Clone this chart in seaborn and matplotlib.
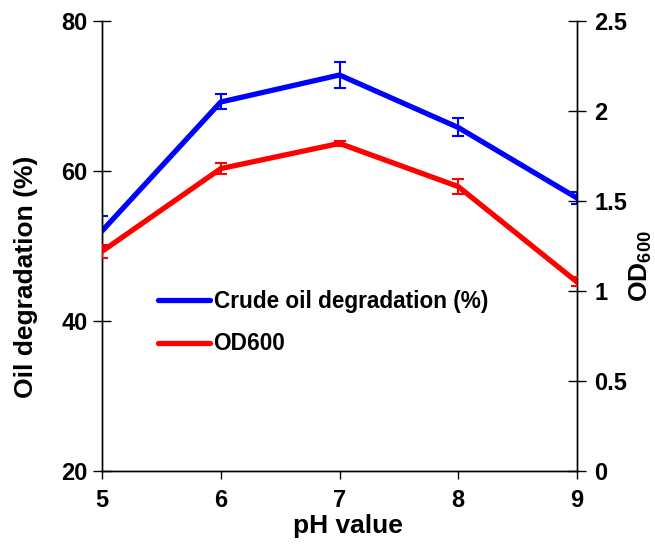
import matplotlib
matplotlib.use("Agg")
import matplotlib.pyplot as plt
import seaborn as sns
import pandas as pd

ph = [5, 6, 7, 8, 9]
degradation = [52.0, 69.2, 72.8, 65.8, 56.4]
degradation_err = [2.0, 1.0, 1.7, 1.2, 0.8]
od600 = [1.22, 1.68, 1.82, 1.58, 1.05]
od600_err = [0.035, 0.03, 0.015, 0.04, 0.025]

sns.set_theme(style="ticks")
plt.rcParams['font.family'] = ['Liberation Sans', 'DejaVu Sans']
plt.rcParams['font.weight'] = 'bold'
plt.rcParams['text.color'] = 'black'
plt.rcParams['axes.labelcolor'] = 'black'
plt.rcParams['xtick.color'] = 'black'
plt.rcParams['ytick.color'] = 'black'
plt.rcParams['mathtext.fontset'] = 'custom'
plt.rcParams['mathtext.rm'] = 'Liberation Sans:bold'
plt.rcParams['mathtext.bf'] = 'Liberation Sans:bold'
plt.rcParams['mathtext.it'] = 'Liberation Sans:bold'

df = pd.DataFrame({"pH": ph, "deg": degradation, "od": od600})

fig = plt.figure(figsize=(6.55, 5.47), dpi=100)
ax = fig.add_axes([102/655, 76/547, 475/655, 450/547])
ax2 = ax.twinx()

blue = "#0000FF"
red = "#FF0000"

sns.lineplot(data=df, x="pH", y="deg", ax=ax, color=blue, lw=3.8,
             label="Crude oil degradation (%)", legend=False, zorder=3)
ax.errorbar(ph, degradation, yerr=degradation_err, fmt='none', ecolor=blue,
            elinewidth=1.5, capsize=4, capthick=1.5, zorder=4)
sns.lineplot(data=df, x="pH", y="od", ax=ax2, color=red, lw=3.8,
             label="OD600", legend=False, zorder=3)
ax2.errorbar(ph, od600, yerr=od600_err, fmt='none', ecolor=red,
             elinewidth=1.5, capsize=4, capthick=1.5, zorder=4)

ax.set_xlim(5, 9)
ax.set_ylim(20, 80)
ax2.set_ylim(0, 2.5)
ax.set_xticks(ph)
ax.set_yticks([20, 40, 60, 80])
ax2.set_yticks([0, 0.5, 1, 1.5, 2, 2.5])
ax2.set_yticklabels(["0", "0.5", "1", "1.5", "2", "2.5"])

for a in (ax, ax2):
    for s in a.spines.values():
        s.set_linewidth(1.0)
        s.set_color("black")
ax.spines['top'].set_visible(False)
ax2.spines['top'].set_visible(False)

ax.tick_params(axis='y', direction='inout', length=13, width=1, labelsize=17, pad=4)
ax.tick_params(axis='x', direction='out', length=6, width=1, labelsize=17, pad=7)
ax2.tick_params(axis='y', direction='inout', length=13, width=1, labelsize=17, pad=6)
for lab in ax.get_xticklabels() + ax.get_yticklabels() + ax2.get_yticklabels():
    lab.set_fontweight('bold')

ax.set_xlabel("pH value", fontsize=19, fontweight='bold')
ax.xaxis.set_label_coords(0.517, -0.096)
ax.set_ylabel("Oil degradation (%)", fontsize=19, fontweight='bold')
ax.yaxis.set_label_coords(-0.135, 0.431)
ax2.set_ylabel("OD$_{600}$", fontsize=19, fontweight='bold')
ax2.yaxis.set_label_coords(1.107, 0.456)

h1, l1 = ax.get_legend_handles_labels()
h2, l2 = ax2.get_legend_handles_labels()
leg = ax2.legend(h1 + h2, l1 + l2, loc='center left', bbox_to_anchor=(0.118, 0.33),
                 frameon=False, fontsize=16.3, handlelength=2.3, handletextpad=0.15,
                 labelspacing=0.88, borderpad=0, borderaxespad=0)
for t in leg.get_texts():
    t.set_fontweight('bold')

fig.savefig("out.png", dpi=100)
